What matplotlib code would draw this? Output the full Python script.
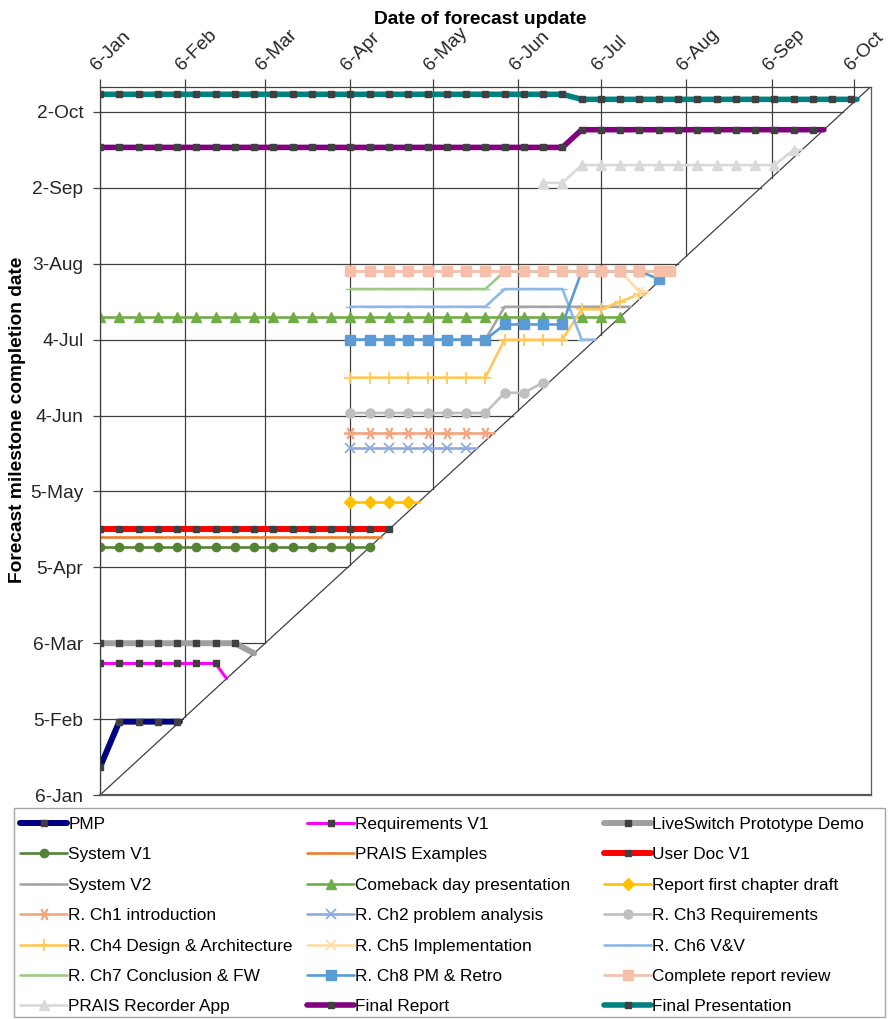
import matplotlib.pyplot as plt
import pandas as pd
from matplotlib.lines import Line2D
from matplotlib.patches import Rectangle

plt.rcParams['font.family'] = ['Liberation Sans', 'DejaVu Sans']

YEAR = 2024

# Forecast updates were made weekly, starting on 6 Jan
updates = pd.date_range(f'{YEAR}-01-06', periods=40, freq='7D')

# For each milestone: first update week, forecast date at each weekly update,
# and the date it was actually completed (point on the diagonal)
pmp_start = 0
pmp_forecast = ['01-17'] + ['02-04'] * 4
pmp_done = '02-04'

req_v1_start = 0
req_v1_forecast = ['02-27'] * 7
req_v1_done = '02-21'

liveswitch_start = 0
liveswitch_forecast = ['03-06'] * 8
liveswitch_done = '03-02'

system_v1_start = 0
system_v1_forecast = ['04-13'] * 15
system_v1_done = '04-13'

prais_examples_start = 0
prais_examples_forecast = ['04-17'] * 15
prais_examples_done = '04-17'

user_doc_start = 0
user_doc_forecast = ['04-20'] * 16
user_doc_done = '04-20'

system_v2_start = 13
system_v2_forecast = ['07-04'] * 8 + ['07-17'] * 7
system_v2_done = '07-17'

comeback_start = 0
comeback_forecast = ['07-13'] * 28
comeback_done = '07-13'

first_draft_start = 13
first_draft_forecast = ['05-01'] * 4
first_draft_done = '05-01'

ch1_start = 13
ch1_forecast = ['05-28'] * 8
ch1_done = '05-28'

ch2_start = 13
ch2_forecast = ['05-22'] * 7
ch2_done = '05-22'

ch3_start = 13
ch3_forecast = ['06-05'] * 8 + ['06-13'] * 2 + ['06-17']
ch3_done = '06-17'

ch4_start = 13
ch4_forecast = ['06-19'] * 8 + ['07-04'] * 4 + ['07-16', '07-16', '07-19', '07-22']
ch4_done = '07-22'

ch5_start = 13
ch5_forecast = ['07-31'] * 15 + ['07-23']
ch5_done = '07-23'

ch6_start = 13
ch6_forecast = ['07-17'] * 8 + ['07-24'] * 4 + ['07-04']
ch6_done = '07-04'

ch7_start = 13
ch7_forecast = ['07-24'] * 8 + ['07-31'] * 9
ch7_done = '07-31'

ch8_start = 13
ch8_forecast = ['07-04'] * 8 + ['07-10'] * 4 + ['07-31'] * 4 + ['07-28']
ch8_done = '07-28'

review_start = 13
review_forecast = ['07-31'] * 17
review_done = '07-31'

recorder_start = 23
recorder_forecast = ['09-04'] * 2 + ['09-11'] * 11 + ['09-17']
recorder_done = '09-17'

final_report_start = 0
final_report_forecast = ['09-18'] * 25 + ['09-25'] * 13
final_report_done = '09-25'

final_pres_start = 0
final_pres_forecast = ['10-09'] * 25 + ['10-07'] * 15
final_pres_done = '10-07'

milestones = [
    ('PMP', pmp_start, pmp_forecast, pmp_done),
    ('Requirements V1', req_v1_start, req_v1_forecast, req_v1_done),
    ('LiveSwitch Prototype Demo', liveswitch_start, liveswitch_forecast, liveswitch_done),
    ('System V1', system_v1_start, system_v1_forecast, system_v1_done),
    ('PRAIS Examples', prais_examples_start, prais_examples_forecast, prais_examples_done),
    ('User Doc V1', user_doc_start, user_doc_forecast, user_doc_done),
    ('System V2', system_v2_start, system_v2_forecast, system_v2_done),
    ('Comeback day presentation', comeback_start, comeback_forecast, comeback_done),
    ('Report first chapter draft', first_draft_start, first_draft_forecast, first_draft_done),
    ('R. Ch1 introduction', ch1_start, ch1_forecast, ch1_done),
    ('R. Ch2 problem analysis', ch2_start, ch2_forecast, ch2_done),
    ('R. Ch3 Requirements', ch3_start, ch3_forecast, ch3_done),
    ('R. Ch4 Design & Architecture', ch4_start, ch4_forecast, ch4_done),
    ('R. Ch5 Implementation', ch5_start, ch5_forecast, ch5_done),
    ('R. Ch6 V&V', ch6_start, ch6_forecast, ch6_done),
    ('R. Ch7 Conclusion & FW', ch7_start, ch7_forecast, ch7_done),
    ('R. Ch8 PM & Retro', ch8_start, ch8_forecast, ch8_done),
    ('Complete report review', review_start, review_forecast, review_done),
    ('PRAIS Recorder App', recorder_start, recorder_forecast, recorder_done),
    ('Final Report', final_report_start, final_report_forecast, final_report_done),
    ('Final Presentation', final_pres_start, final_pres_forecast, final_pres_done),
]

# line / marker styling per milestone
DARK = '#404040'
ASTERISK = (6, 2, 90)
styles = {
    'PMP': dict(color='#000080', lw=4.3, marker='s', ms=4, mc=DARK),
    'Requirements V1': dict(color='#FF00FF', lw=2.2, marker='s', ms=4, mc=DARK),
    'LiveSwitch Prototype Demo': dict(color='#A0A0A0', lw=4.3, marker='s', ms=4, mc=DARK),
    'System V1': dict(color='#548235', lw=1.9, marker='o', ms=6),
    'PRAIS Examples': dict(color='#ED7D31', lw=1.9, marker='_', ms=7),
    'User Doc V1': dict(color='#FF0000', lw=4.3, marker='s', ms=4, mc=DARK),
    'System V2': dict(color='#A5A5A5', lw=1.9, marker='_', ms=7),
    'Comeback day presentation': dict(color='#70AD47', lw=1.9, marker='^', ms=7.5),
    'Report first chapter draft': dict(color='#FFC000', lw=1.9, marker='D', ms=6),
    'R. Ch1 introduction': dict(color='#F4A582', lw=1.9, marker=ASTERISK, ms=9, mew=1.3),
    'R. Ch2 problem analysis': dict(color='#8FAADC', lw=1.9, marker='x', ms=7.5, mew=1.3),
    'R. Ch3 Requirements': dict(color='#BFBFBF', lw=1.9, marker='o', ms=6.5),
    'R. Ch4 Design & Architecture': dict(color='#FFC859', lw=1.9, marker='+', ms=9, mew=1.3),
    'R. Ch5 Implementation': dict(color='#FFDDA6', lw=1.9, marker='x', ms=7.5, mew=1.3),
    'R. Ch6 V&V': dict(color='#8EB8E5', lw=1.9, marker='_', ms=7),
    'R. Ch7 Conclusion & FW': dict(color='#9CCB85', lw=1.9, marker='_', ms=7),
    'R. Ch8 PM & Retro': dict(color='#5B9BD5', lw=1.9, marker='s', ms=7),
    'Complete report review': dict(color='#F5BFAA', lw=1.9, marker='s', ms=7),
    'PRAIS Recorder App': dict(color='#D9D9D9', lw=1.9, marker='^', ms=7),
    'Final Report': dict(color='#800080', lw=4.0, marker='s', ms=4, mc=DARK),
    'Final Presentation': dict(color='#008080', lw=4.0, marker='s', ms=4, mc=DARK),
}
# these also mark the completion point
marked_done = {'Complete report review'}


def to_date(md):
    return pd.Timestamp(f'{YEAR}-{md}')


start_day = pd.Timestamp(f'{YEAR}-01-06')
end_day = pd.Timestamp(f'{YEAR}-10-12')
x_ticks = pd.date_range(f'{YEAR}-01-01', periods=10, freq='MS') + pd.Timedelta(days=5)
y_ticks = pd.date_range(f'{YEAR}-01-06', periods=10, freq='30D')

fig = plt.figure(figsize=(8.9, 10.19), dpi=100)
ax = fig.add_axes([100 / 890, 1 - 795 / 1019, 770.7 / 890, 708.3 / 1019])
ax.set_xlim(start_day, end_day)
ax.set_ylim(start_day, end_day)

# grid stops at the diagonal (update date == completion date)
grid_c = '#404040'
for t in x_ticks:
    ax.plot([t, t], [t, end_day], color=grid_c, lw=0.9, zorder=1)
for t in y_ticks:
    ax.plot([start_day, t], [t, t], color=grid_c, lw=0.9, zorder=1)
ax.plot([start_day, end_day], [start_day, end_day], color=grid_c, lw=0.9, zorder=1)

handles = []
for name, start, forecast, done in milestones:
    st = styles[name]
    xs = list(updates[start:start + len(forecast)]) + [to_date(done)]
    ys = [to_date(d) for d in forecast] + [to_date(done)]
    every = list(range(len(xs))) if name in marked_done else list(range(len(xs) - 1))
    mc = st.get('mc', st['color'])
    kw = dict(color=st['color'], lw=st['lw'], marker=st['marker'], ms=st['ms'],
              mfc=mc, mec=mc, mew=st.get('mew', 1.0), solid_capstyle='round',
              solid_joinstyle='round')
    ax.plot(xs, ys, markevery=every, zorder=2, **kw)
    handles.append(Line2D([], [], **kw))

# date axis on top
ax.xaxis.tick_top()
ax.set_xticks(x_ticks)
ax.set_xticklabels([f'{t.day}-{t:%b}' for t in x_ticks], rotation=45, ha='left',
                   va='bottom', rotation_mode='anchor', fontsize=13.8, color='#262626')
ax.set_yticks(y_ticks)
ax.set_yticklabels([f'{t.day}-{t:%b}' for t in y_ticks], fontsize=13.8, color='#262626')
ax.tick_params(axis='x', direction='out', length=6, width=0.9, color=grid_c, pad=3)
ax.tick_params(axis='y', direction='out', length=5, width=0.9, color=grid_c, pad=7)

for side in ['top', 'left']:
    ax.spines[side].set_color(grid_c)
    ax.spines[side].set_linewidth(0.9)
ax.spines['bottom'].set_color('#595959')
ax.spines['bottom'].set_linewidth(1.6)
ax.spines['right'].set_color('#595959')
ax.spines['right'].set_linewidth(0.9)

fig.text(480 / 890, 1 - 19 / 1019, 'Date of forecast update', ha='center', va='center',
         fontsize=13.8, fontweight='bold')
fig.text(18 / 890, 1 - 420 / 1019, 'Forecast milestone completion date', ha='center',
         va='center', rotation=90, fontsize=13.8, fontweight='bold')

# legend: three equal-width columns, entries read row by row, one box round all
labels = [m[0] for m in milestones]
col_left = [20, 307, 604]
for c, x0 in enumerate(col_left):
    idx = list(range(c, len(labels), 3))
    fig.legend([handles[i] for i in idx], [labels[i] for i in idx],
               loc='upper left', bbox_to_anchor=(x0 / 890, 1 - 817 / 1019),
               frameon=False, fontsize=12.4, handlelength=2.75, handletextpad=0.05,
               labelspacing=0.89, borderpad=0, borderaxespad=0, numpoints=1)
fig.add_artist(Rectangle((14 / 890, 1 - 1017 / 1019), 871 / 890, 209 / 1019,
                         transform=fig.transFigure, fill=False, edgecolor='#A6A6A6', lw=1.0))

fig.savefig('out.png', dpi=100)
